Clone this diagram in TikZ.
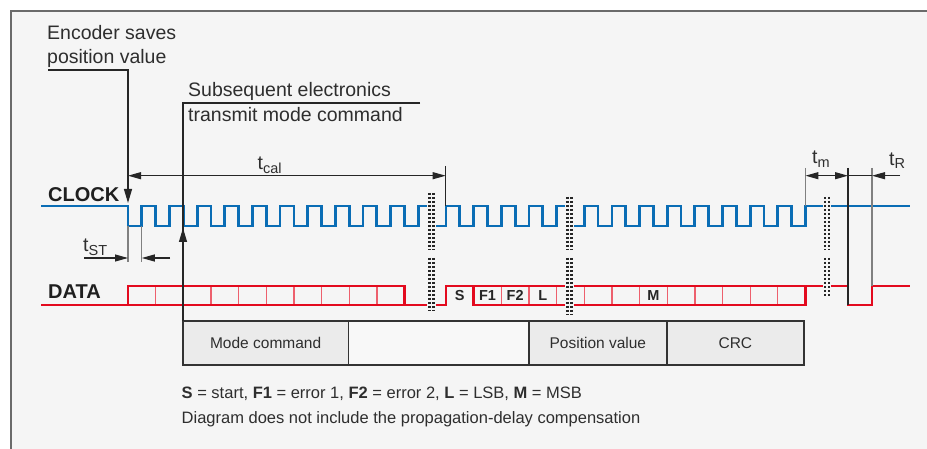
\documentclass[tikz,border=0pt]{standalone}
\usepackage{fontspec}
\setmainfont{Liberation Sans}
\usetikzlibrary{arrows.meta}
\definecolor{clk}{HTML}{0A6DB5}
\definecolor{dred}{HTML}{E30A1E}
\definecolor{bg}{HTML}{F5F5F5}
\definecolor{framec}{HTML}{6B6B6B}
\definecolor{txt}{HTML}{2E2E2E}
\definecolor{cellgray}{HTML}{EBEBEB}
\definecolor{cellwhite}{HTML}{F8F8F8}
\begin{document}
\begin{tikzpicture}[x=1pt,y=-1pt,
  lbl/.style={inner sep=0pt, text=txt, font=\fontsize{19.5}{23}\selectfont},
  sig/.style={inner sep=0pt, text=black!88, font=\bfseries\fontsize{20}{24}\selectfont},
  bit/.style={inner sep=0pt, text=black!85, font=\bfseries\fontsize{14.5}{16}\selectfont},
  leg/.style={inner sep=0pt, text=txt, font=\fontsize{16.5}{20}\selectfont},
  cell/.style={draw=black!80, line width=1.6, minimum height=44, inner sep=0pt, text=txt, font=\fontsize{15.5}{18}\selectfont},
  thinln/.style={draw=black!85, line width=1.1},
  gline/.style={draw=black!50, line width=1.3},
  clkline/.style={draw=clk, line width=2.8, line join=miter},
  datline/.style={draw=dred, line width=2.6, line join=miter},
  divline/.style={draw=dred!65!white, line width=1.3},
  endarr/.style={-{Triangle[length=13,width=7]}},
  bothArr/.style={{Triangle[length=13,width=7]}-{Triangle[length=13,width=7]}},
  breakdots/.style={draw=black!85, line width=2.3, dash pattern=on 2.3 off 1.7},
]
\useasboundingbox (0,0) rectangle (927,449);
% background and frame
\fill[white] (0,0) rectangle (927,449);
\fill[bg] (11,11) rectangle (927,449);
\draw[draw=framec, line width=2] (11,449) -- (11,11) -- (927,11);

% table
\node[cell, fill=cellgray, minimum width=165.3] (mc) at (265.65,343) {Mode command};
\node[cell, fill=cellwhite, minimum width=180.7] (blank) at (438.65,343) {};
\node[cell, fill=cellgray, minimum width=137.7] (pv) at (597.85,343) {Position value};
\node[cell, fill=cellgray, minimum width=137.3] (crc) at (735.35,343) {CRC};

% clock
\def\hp{13.825}
\draw[clkline] (41,206) -- (128,206)
  \foreach \i in {1,...,11} { -- ++(0,20) -- ++(\hp,0) -- ++(0,-20) -- ++(\hp,0) }
  -- ++(0,20) -- (446,226) -- (446,206)
  \foreach \i in {1,...,13} { -- ++(\hp,0) -- ++(0,20) -- ++(\hp,0) -- ++(0,-20) }
  -- (910,206);

% data
\foreach \i in {1,...,9} \draw[divline] ({128+\i*27.65},287) -- ({128+\i*27.65},304);
\foreach \i in {1,...,11} \draw[divline] ({473.65+\i*27.65},287) -- ({473.65+\i*27.65},304);
\draw[datline] (41,305) -- (404.5,305);
\draw[datline] (128,305) -- (128,286) -- (404.5,286) -- (404.5,305) -- (446,305) -- (446,286) -- (473.65,286) -- (473.65,305) -- (805.45,305) -- (805.45,286) -- (848,286) -- (848,305) -- (872,305) -- (872,286) -- (910,286);
\draw[datline] (473.65,286) -- (805.45,286);

\node[bit, anchor=base] (bS) at (459.8,301) {S};
\node[bit, anchor=base] (bF1) at (487.5,301) {F1};
\node[bit, anchor=base] (bF2) at (515.1,301) {F2};
\node[bit, anchor=base] (bL) at (542.8,301) {L};
\node[bit, anchor=base] (bM) at (653.4,301) {M};

% breaks
\foreach \x/\ya/\yb in {431.5/193/311, 569.5/197/315, 827/197/296} {
  \fill[bg] (\x-4.4,\ya-1) rectangle (\x+4.4,\yb+1);
  \draw[breakdots] (\x-2.1,\ya) -- (\x-2.1,250.5);
  \draw[breakdots] (\x+2.1,\ya) -- (\x+2.1,250.5);
  \draw[breakdots] (\x-2.1,258) -- (\x-2.1,\yb);
  \draw[breakdots] (\x+2.1,258) -- (\x+2.1,\yb);
}

% labels
\node[lbl, anchor=base west] (enc1) at (47,40) {Encoder saves};
\node[lbl, anchor=base west] (enc2) at (47,63.3) {position value};
\node[lbl, anchor=base west] (sub1) at (188,96.7) {Subsequent electronics};
\node[lbl, anchor=base west] (sub2) at (188,121.7) {transmit mode command};
\node[sig, anchor=base west] (clock) at (48,201.7) {CLOCK};
\node[sig, anchor=base west] (data) at (48,298.3) {DATA};
\node[lbl, anchor=base west] (tcal) at (257.5,170) {t\raisebox{-3.5pt}{\fontsize{14.5}{15}\selectfont cal}};
\node[lbl, anchor=base west] (tst) at (83,251.7) {t\raisebox{-3.5pt}{\fontsize{14.5}{15}\selectfont ST}};
\node[lbl, anchor=base west] (tm) at (812,164) {t\raisebox{-3.5pt}{\fontsize{14.5}{15}\selectfont m}};
\node[lbl, anchor=base west] (tr) at (889,165.5) {t\raisebox{-3.5pt}{\fontsize{14.5}{15}\selectfont R}};

\node[leg, anchor=base west] (leg1) at (181.5,398.5) {\textbf{S} = start, \textbf{F1} = error 1, \textbf{F2} = error 2, \textbf{L} = LSB, \textbf{M} = MSB};
\node[leg, anchor=base west] (leg2) at (181.5,423.3) {Diagram does not include the propagation-delay compensation};

% annotation lines
\coordinate (encA) at (48,70);
\coordinate (encB) at (128,70);
\coordinate (encT) at (128,203);
\draw[thinln, -{Triangle[length=14,width=8]}] (encA) -- (encB) -- (encT);

\coordinate (subA) at (420,103);
\coordinate (subB) at (183,103);
\coordinate (subC) at (183,321);
\draw[thinln] (subA) -- (subB) -- (subC);
\coordinate (subS) at (183,260);
\coordinate (subT) at (183,228);
\draw[thinln, -{Triangle[length=14,width=8]}] (subS) -- (subT);

\coordinate (calL) at (128,175.7);
\coordinate (calR) at (445.7,175.7);
\coordinate (calV) at (445.7,166);
\coordinate (calW) at (445.7,206);
\draw[thinln, bothArr] (calL) -- (calR);
\draw[thinln] (calV) -- (calW);

\coordinate (stA) at (128,226);
\coordinate (stB) at (128,262);
\coordinate (stC) at (141.8,226);
\coordinate (stD) at (141.8,262);
\draw[gline] (stA) -- (stB);
\draw[gline] (stC) -- (stD);
\coordinate (stL) at (84,258);
\coordinate (stL2) at (128,258);
\coordinate (stR) at (170,258);
\coordinate (stR2) at (141.8,258);
\draw[thinln, endarr] (stL) -- (stL2);
\draw[thinln, endarr] (stR) -- (stR2);

\coordinate (mA) at (805.45,168);
\coordinate (mB) at (805.45,206);
\coordinate (nA) at (848,168);
\coordinate (nB) at (848,305);
\coordinate (rA) at (872,168);
\coordinate (rB) at (872,286);
\draw[gline] (mA) -- (mB);
\draw[thinln] (nA) -- (nB);
\draw[gline] (rA) -- (rB);
\coordinate (mL) at (805.45,175.7);
\coordinate (mR) at (848,175.7);
\coordinate (rL) at (872,175.7);
\coordinate (rE) at (900,175.7);
\draw[thinln, bothArr] (mL) -- (mR);
\draw[thinln] (mR) -- (rL);
\draw[thinln, endarr] (rE) -- (rL);
\end{tikzpicture}
\end{document}
